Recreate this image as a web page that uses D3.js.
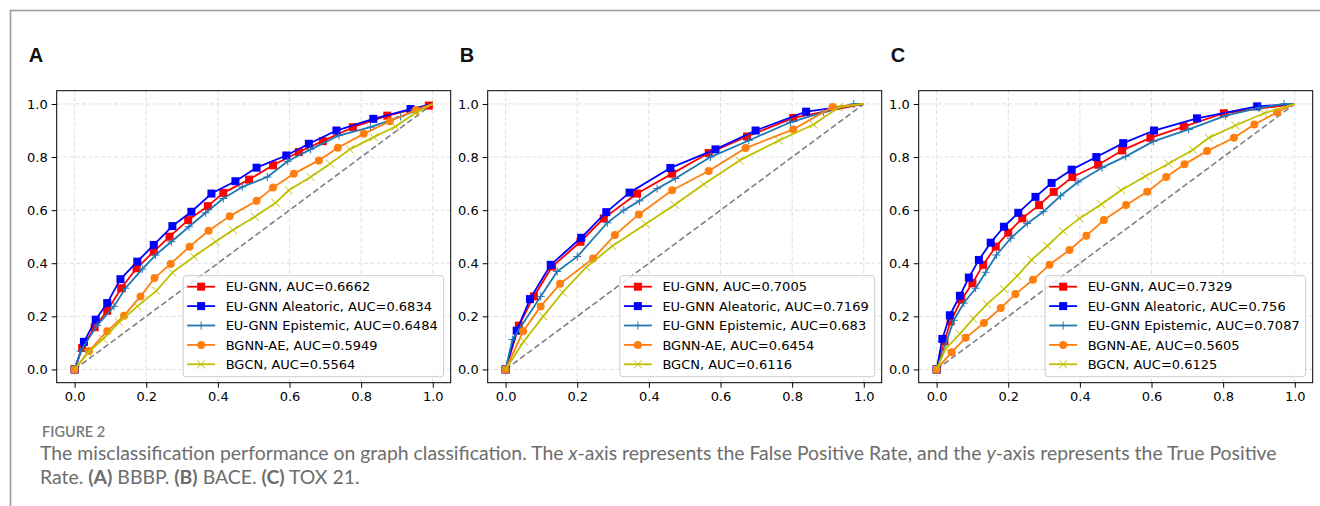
<!DOCTYPE html>
<html>
<head>
<meta charset="utf-8">
<script src="https://cdn.jsdelivr.net/npm/d3@7/dist/d3.min.js"></script>
<style>
 html,body{margin:0;padding:0;background:#fff;}
 svg{display:block;}
</style>
</head>
<body>
<svg id="chart" width="1320" height="506"></svg>
<script>
// ROC curves, [false positive rate, true positive rate].
const panels=['A','B','C'];
const names=['EU-GNN','EU-GNN Aleatoric','EU-GNN Epistemic','BGNN-AE','BGCN'];
const colors=['#ff0000','#0000ff','#1f77b4','#ff7f0e','#bfbf00'];
const markers=['square','square','plus','circle','cross'];
const ticks=[0,0.2,0.4,0.6,0.8,1.0];

const aucA=[0.6662,0.6834,0.6484,0.5949,0.5564];
const aucB=[0.7005,0.7169,0.683,0.6454,0.6116];
const aucC=[0.7329,0.756,0.7087,0.5605,0.6125];

const aEU=[[0,0],[0.021,0.081],[0.056,0.159],[0.091,0.221],[0.13,0.306],[0.173,0.381],[0.221,0.444],[0.265,0.5],[0.317,0.5625],[0.372,0.615],[0.415,0.665],[0.487,0.715],[0.554,0.769],[0.626,0.819],[0.693,0.86],[0.777,0.9125],[0.873,0.956],[0.989,0.994],[1,1]];
const aAleatoric=[[0,0],[0.026,0.104],[0.059,0.1875],[0.091,0.25],[0.128,0.34],[0.175,0.406],[0.221,0.469],[0.273,0.54],[0.326,0.594],[0.382,0.6625],[0.449,0.709],[0.508,0.76],[0.591,0.806],[0.654,0.85],[0.731,0.9],[0.834,0.944],[0.938,0.981],[1,1]];
const aEpistemic=[[0,0],[0.017,0.069],[0.063,0.166],[0.11,0.2375],[0.142,0.306],[0.189,0.378],[0.226,0.431],[0.27,0.481],[0.319,0.5375],[0.366,0.59],[0.415,0.644],[0.468,0.6875],[0.538,0.725],[0.595,0.784],[0.659,0.829],[0.738,0.881],[0.826,0.9125],[0.91,0.9525],[1,1]];
const aBGNN=[[0,0],[0.04,0.069],[0.091,0.144],[0.138,0.2025],[0.184,0.275],[0.223,0.344],[0.268,0.3975],[0.321,0.4625],[0.374,0.5225],[0.433,0.5775],[0.508,0.635],[0.554,0.685],[0.612,0.7375],[0.682,0.7875],[0.735,0.835],[0.807,0.8875],[0.88,0.935],[0.953,0.9775],[1,1]];
const aBGCN=[[0,0],[0.037,0.0625],[0.08,0.115],[0.124,0.1775],[0.175,0.2375],[0.228,0.296],[0.273,0.365],[0.333,0.425],[0.393,0.481],[0.442,0.525],[0.503,0.575],[0.561,0.6275],[0.598,0.675],[0.659,0.725],[0.713,0.775],[0.768,0.829],[0.835,0.875],[0.896,0.915],[0.95,0.965],[1,1]];

const bEU=[[0,0],[0.037,0.165],[0.079,0.275],[0.13,0.3875],[0.209,0.481],[0.274,0.569],[0.367,0.6625],[0.465,0.7375],[0.567,0.815],[0.674,0.8775],[0.803,0.9475],[1,1]];
const bAleatoric=[[0,0],[0.031,0.146],[0.068,0.265],[0.126,0.394],[0.211,0.496],[0.281,0.5925],[0.346,0.666],[0.46,0.759],[0.586,0.829],[0.698,0.9],[0.839,0.971],[1,1]];
const bEpistemic=[[0,0],[0.019,0.1125],[0.098,0.275],[0.144,0.369],[0.2,0.425],[0.284,0.5525],[0.33,0.6],[0.374,0.635],[0.423,0.681],[0.474,0.719],[0.572,0.8],[0.679,0.8625],[0.795,0.931],[0.888,0.969],[0.972,1.0],[1,1]];
const bBGNN=[[0,0],[0.049,0.144],[0.098,0.2375],[0.152,0.3225],[0.244,0.4175],[0.305,0.506],[0.372,0.584],[0.465,0.675],[0.567,0.7475],[0.67,0.834],[0.803,0.904],[0.913,0.989],[1,1]];
const bBGCN=[[0,0],[0.051,0.106],[0.105,0.2],[0.159,0.29],[0.225,0.385],[0.298,0.465],[0.391,0.5475],[0.472,0.62],[0.553,0.6975],[0.653,0.7875],[0.763,0.8625],[0.86,0.9225],[0.93,0.9875],[1,1]];

const cEU=[[0,0],[0.022,0.106],[0.039,0.181],[0.069,0.2625],[0.1,0.325],[0.13,0.394],[0.165,0.4625],[0.2,0.515],[0.239,0.569],[0.286,0.619],[0.327,0.669],[0.379,0.725],[0.451,0.771],[0.518,0.825],[0.597,0.8725],[0.69,0.915],[0.802,0.965],[1,1]];
const cAleatoric=[[0,0],[0.016,0.115],[0.037,0.204],[0.065,0.2775],[0.09,0.346],[0.118,0.4125],[0.151,0.4775],[0.188,0.5375],[0.228,0.59],[0.276,0.65],[0.321,0.7025],[0.377,0.7525],[0.446,0.8],[0.521,0.8525],[0.607,0.9],[0.727,0.946],[0.895,0.991],[1,1]];
const cEpistemic=[[0,0],[0.048,0.185],[0.076,0.25],[0.109,0.306],[0.137,0.366],[0.167,0.431],[0.207,0.494],[0.253,0.55],[0.298,0.594],[0.346,0.654],[0.395,0.706],[0.462,0.76],[0.528,0.8025],[0.605,0.859],[0.704,0.904],[0.807,0.956],[0.9,0.985],[0.97,1.0],[1,1]];
const cBGNN=[[0,0],[0.042,0.065],[0.081,0.119],[0.132,0.175],[0.179,0.231],[0.22,0.284],[0.269,0.3375],[0.315,0.394],[0.371,0.45],[0.418,0.504],[0.467,0.5625],[0.529,0.619],[0.588,0.669],[0.641,0.725],[0.692,0.7725],[0.755,0.8225],[0.83,0.8725],[0.887,0.9225],[0.951,0.969],[1,1]];
const cBGCN=[[0,0],[0.025,0.0775],[0.065,0.134],[0.102,0.191],[0.141,0.246],[0.188,0.3025],[0.225,0.3525],[0.265,0.4125],[0.309,0.465],[0.353,0.521],[0.399,0.569],[0.46,0.6225],[0.515,0.675],[0.583,0.7275],[0.647,0.775],[0.716,0.8275],[0.76,0.8725],[0.834,0.919],[0.914,0.965],[1,1]];

const curves=[[aEU,aAleatoric,aEpistemic,aBGNN,aBGCN],[bEU,bAleatoric,bEpistemic,bBGNN,bBGCN],[cEU,cAleatoric,cEpistemic,cBGNN,cBGCN]];
const aucs=[aucA,aucB,aucC];

const svg=d3.select('#chart');
const tickfont='"DejaVu Sans", sans-serif';

// page frame (left + top rule)
svg.append('path').attr('d','M10.5,506V10.5H1320').attr('fill','none').attr('stroke','#999').attr('stroke-width',1.6);

function marker(g,kind,color){
 const s=8;
 if(kind==='square')
 g.append('rect').attr('x',-s/2).attr('y',-s/2).attr('width',s).attr('height',s).attr('fill',color);
 else if(kind==='circle')
 g.append('circle').attr('r',s/2).attr('fill',color);
 else if(kind==='plus')
 g.append('path').attr('d',`M${-s/2},0H${s/2}M0,${-s/2}V${s/2}`).attr('stroke',color).attr('stroke-width',1);
 else
 g.append('path').attr('d',`M${-s/2},${-s/2}L${s/2},${s/2}M${-s/2},${s/2}L${s/2},${-s/2}`).attr('stroke',color).attr('stroke-width',1);
}

const lefts=[56.7,487.7,918.7];
const plotTop=90.7,w=394,h=292;

panels.forEach((label,p)=>{
 const left=lefts[p];
 const x=d3.scaleLinear().domain([-0.05,1.05]).range([left,left+w]);
 const y=d3.scaleLinear().domain([-0.05,1.05]).range([plotTop+h,plotTop]);
 const g=svg.append('g');

 svg.append('text').attr('x',left-28).attr('y',62).text(label)
 .attr('font-family','"Liberation Sans", Arial, sans-serif').attr('font-weight','bold').attr('font-size',20).attr('fill','#111');

 // grid
 const grid=g.append('g').attr('stroke','#d4d4d4').attr('stroke-width',0.8).attr('stroke-dasharray','4,2.4');
 grid.selectAll('.gx').data(ticks).join('line').attr('class','gx').attr('x1',d=>x(d)).attr('x2',d=>x(d)).attr('y1',plotTop).attr('y2',plotTop+h);
 grid.selectAll('.gy').data(ticks).join('line').attr('class','gy').attr('y1',d=>y(d)).attr('y2',d=>y(d)).attr('x1',left).attr('x2',left+w);

 // chance diagonal
 g.append('line').attr('x1',x(0)).attr('y1',y(0)).attr('x2',x(1)).attr('y2',y(1))
 .attr('stroke','#808080').attr('stroke-width',1.6).attr('stroke-dasharray','6,3');

 const line=d3.line().x(d=>x(d[0])).y(d=>y(d[1]));
 curves[p].forEach((data,i)=>{
 g.append('path').datum(data).attr('d',line).attr('fill','none').attr('stroke',colors[i]).attr('stroke-width',1.8).attr('stroke-linejoin','round');
 g.append('g').selectAll('g').data(data.slice(0,-1)).join('g')
 .attr('transform',d=>`translate(${x(d[0])},${y(d[1])})`)
 .each(function(){marker(d3.select(this),markers[i],colors[i]);});
 });

 // axes
 const ax=svg.append('g').attr('transform',`translate(0,${plotTop+h})`)
 .call(d3.axisBottom(x).tickValues(ticks).tickFormat(d3.format('.1f')).tickSize(5).tickPadding(4).tickSizeOuter(0));
 const ay=svg.append('g').attr('transform',`translate(${left},0)`)
 .call(d3.axisLeft(y).tickValues(ticks).tickFormat(d3.format('.1f')).tickSize(5).tickPadding(4).tickSizeOuter(0));
 [ax,ay].forEach(a=>{
 a.select('.domain').remove();
 a.selectAll('text').attr('font-family',tickfont).attr('font-size',13).attr('fill','#000');
 a.selectAll('line').attr('stroke','#000');
 });
 svg.append('rect').attr('x',left).attr('y',plotTop).attr('width',w).attr('height',h)
 .attr('fill','none').attr('stroke','#000').attr('stroke-width',1);

 // legend
 const lg=svg.append('g');
 const labels=names.map((n,i)=>`${n}, AUC=${aucs[p][i]}`);
 const texts=lg.selectAll('text').data(labels).join('text')
 .attr('font-family',tickfont).attr('font-size',13).attr('fill','#000').text(d=>d);
 const tw=d3.max(texts.nodes(),n=>n.getComputedTextLength());
 const bw=4+28+10.5+tw+6,bh=101;
 const bx=left+w-7-bw,by=plotTop+h-6-bh;
 lg.insert('rect','text').attr('x',bx).attr('y',by).attr('width',bw).attr('height',bh).attr('rx',3)
 .attr('fill','#fff').attr('fill-opacity',0.8).attr('stroke','#cccccc').attr('stroke-width',1);
 texts.attr('x',bx+42.5).attr('y',(d,i)=>by+11+i*19.4+4.6);
 labels.forEach((d,i)=>{
 const cy=by+11+i*19.4;
 lg.append('line').attr('x1',bx+4).attr('x2',bx+32).attr('y1',cy).attr('y2',cy).attr('stroke',colors[i]).attr('stroke-width',1.8);
 marker(lg.append('g').attr('transform',`translate(${bx+18},${cy})`),markers[i],colors[i]);
 });
});

// caption
const cap=svg.append('g').attr('font-family','Lato, "Open Sans", sans-serif').attr('fill','#6d6d6d');
cap.append('text').attr('x',42).attr('y',437).attr('font-size',14.5).attr('font-weight',600).attr('fill','#7a7a7a').text('FIGURE 2');
const l1=cap.append('text').attr('x',40).attr('y',460).attr('font-size',17);
l1.append('tspan').text('The misclassification performance on graph classification. The ');
l1.append('tspan').attr('font-style','italic').text('x');
l1.append('tspan').text('-axis represents the False Positive Rate, and the ');
l1.append('tspan').attr('font-style','italic').text('y');
l1.append('tspan').text('-axis represents the True Positive');
const l2=cap.append('text').attr('x',40).attr('y',484).attr('font-size',17);
[['Rate. ',0],['(A)',1],[' BBBP. ',0],['(B)',1],[' BACE. ',0],['(C)',1],[' TOX 21.',0]].forEach(([t,b])=>
 l2.append('tspan').attr('font-weight',b?700:400).text(t));
const fs=17*1238/l1.node().getComputedTextLength();
l1.attr('font-size',fs);l2.attr('font-size',fs);
</script>
</body>
</html>
